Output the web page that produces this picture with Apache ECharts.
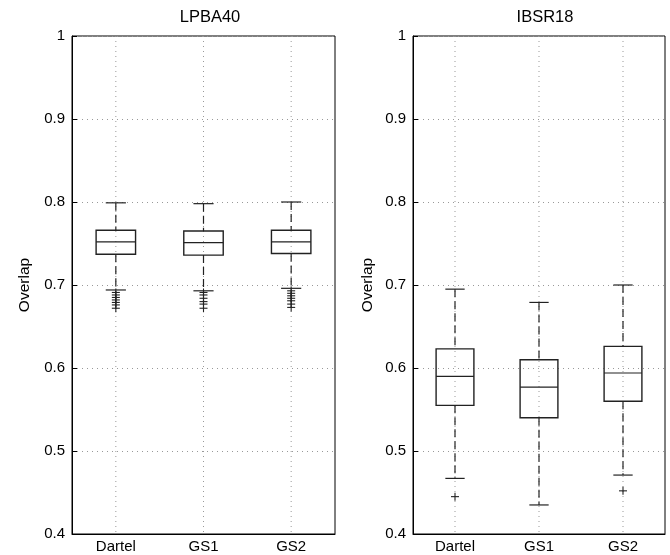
<!DOCTYPE html>
<html>
<head>
<meta charset="utf-8">
<script src="https://cdn.jsdelivr.net/npm/echarts@6/dist/echarts.min.js"></script>
<style>html,body{margin:0;padding:0;background:#fff}#c{width:670px;height:555px}</style>
</head>
<body>
<div id="c"></div>
<script>
var categories = ['Dartel', 'GS1', 'GS2'];
var yTicks = [0.4, 0.5, 0.6, 0.7, 0.8, 0.9, 1];

// LPBA40 box statistics
var lpbaLowerWhisker = [0.694, 0.693, 0.696];
var lpbaQ1 = [0.737, 0.736, 0.738];
var lpbaMedian = [0.752, 0.751, 0.752];
var lpbaQ3 = [0.766, 0.765, 0.766];
var lpbaUpperWhisker = [0.799, 0.798, 0.800];
var lpbaOutliersDartel = [0.691, 0.688, 0.685, 0.682, 0.679, 0.676, 0.672];
var lpbaOutliersGS1 = [0.691, 0.688, 0.684, 0.680, 0.677, 0.672];
var lpbaOutliersGS2 = [0.693, 0.690, 0.687, 0.684, 0.681, 0.677, 0.673];

// IBSR18 box statistics
var ibsrLowerWhisker = [0.467, 0.435, 0.471];
var ibsrQ1 = [0.555, 0.540, 0.560];
var ibsrMedian = [0.590, 0.577, 0.594];
var ibsrQ3 = [0.623, 0.610, 0.626];
var ibsrUpperWhisker = [0.695, 0.679, 0.700];
var ibsrOutliersDartel = [0.445];
var ibsrOutliersGS1 = [];
var ibsrOutliersGS2 = [0.452];

function boxData(lw, q1, med, q3, uw) {
  return categories.map(function (c, i) { return [i, lw[i], q1[i], med[i], q3[i], uw[i]]; });
}
function outlierData(lists) {
  var out = [];
  lists.forEach(function (l, i) { l.forEach(function (v) { out.push([i, v]); }); });
  return out;
}

var DARK = '#222';
function renderBox(params, api) {
  var i = api.value(0);
  var band = api.size([1, 0])[0];
  var bw = band * 0.45, cw = band * 0.23;
  var top = api.coord([i, 1]), bot = api.coord([i, 0.4]);
  var pLw = api.coord([i, api.value(1)]);
  var pQ1 = api.coord([i, api.value(2)]);
  var pMed = api.coord([i, api.value(3)]);
  var pQ3 = api.coord([i, api.value(4)]);
  var pUw = api.coord([i, api.value(5)]);
  var x = pMed[0];
  var grid = {type: 'line', shape: {x1: x, y1: top[1], x2: x, y2: bot[1]},
    style: {stroke: '#999', lineWidth: 1, lineDash: [1, 4]}, silent: true};
  var ln = function (x1, y1, x2, y2, dash) {
    return {type: 'line', shape: {x1: x1, y1: y1, x2: x2, y2: y2},
      style: {stroke: DARK, lineWidth: 1.2, lineDash: dash || null, fill: null}};
  };
  return {type: 'group', children: [
    grid,
    ln(x, pUw[1], x, pQ3[1], [8, 4]),
    ln(x, pQ1[1], x, pLw[1], [8, 4]),
    ln(x - cw / 2, pUw[1], x + cw / 2, pUw[1]),
    ln(x - cw / 2, pLw[1], x + cw / 2, pLw[1]),
    {type: 'rect', shape: {x: x - bw / 2, y: pQ3[1], width: bw, height: pQ1[1] - pQ3[1]},
      style: {stroke: DARK, lineWidth: 1.4, fill: null}},
    ln(x - bw / 2, pMed[1], x + bw / 2, pMed[1])
  ]};
}
function renderPlus(params, api) {
  var p = api.coord([api.value(0), api.value(1)]);
  var h = 4;
  return {type: 'group', children: [
    {type: 'line', shape: {x1: p[0] - h, y1: p[1], x2: p[0] + h, y2: p[1]}, style: {stroke: DARK, lineWidth: 1.1}},
    {type: 'line', shape: {x1: p[0], y1: p[1] - h, x2: p[0], y2: p[1] + h}, style: {stroke: DARK, lineWidth: 1.1}}
  ]};
}

var FONT = 'Liberation Sans';
function xAxis(gi) {
  return {type: 'category', gridIndex: gi, data: categories, boundaryGap: true,
    axisLine: {lineStyle: {color: '#000', width: 1}},
    axisTick: {alignWithLabel: true, inside: true, length: 5, lineStyle: {color: '#000'}},
    axisLabel: {color: '#000', fontFamily: FONT, fontSize: 15, margin: 5},
    splitLine: {show: false}};
}
function yAxis(gi, gap) {
  return {type: 'value', gridIndex: gi, min: 0.4, max: 1, interval: 0.1,
    name: 'Overlap', nameLocation: 'middle', nameGap: gap, nameRotate: 90,
    nameTextStyle: {color: '#000', fontFamily: FONT, fontSize: 15.5},
    axisLine: {show: true, lineStyle: {color: '#000', width: 1}},
    axisTick: {show: true, inside: true, length: 5, lineStyle: {color: '#000'}},
    axisLabel: {color: '#000', fontFamily: FONT, fontSize: 15, margin: 7,
      formatter: function (v) { return String(Math.round(v * 10) / 10); }},
    splitLine: {show: true, lineStyle: {color: '#999', width: 1, type: [1, 4]}}};
}

var chart = echarts.init(document.getElementById('c'), null, {renderer: 'canvas'});
chart.setOption({
  animation: false,
  backgroundColor: '#fff',
  title: [
    {text: 'LPBA40', left: 205, top: 4, textAlign: 'center',
      textStyle: {fontFamily: FONT, fontSize: 16.5, fontWeight: 'normal', color: '#000'}},
    {text: 'IBSR18', left: 540, top: 4, textAlign: 'center',
      textStyle: {fontFamily: FONT, fontSize: 16.5, fontWeight: 'normal', color: '#000'}}
  ],
  grid: [
    {left: 72, top: 36, width: 263, height: 498, show: true, borderColor: '#000', borderWidth: 1, backgroundColor: 'transparent'},
    {left: 413, top: 36, width: 252, height: 498, show: true, borderColor: '#000', borderWidth: 1, backgroundColor: 'transparent'}
  ],
  xAxis: [xAxis(0), xAxis(1)],
  yAxis: [yAxis(0, 39), yAxis(1, 37)],
  series: [
    {type: 'custom', xAxisIndex: 0, yAxisIndex: 0, renderItem: renderBox,
      data: boxData(lpbaLowerWhisker, lpbaQ1, lpbaMedian, lpbaQ3, lpbaUpperWhisker)},
    {type: 'custom', xAxisIndex: 0, yAxisIndex: 0, renderItem: renderPlus,
      data: outlierData([lpbaOutliersDartel, lpbaOutliersGS1, lpbaOutliersGS2])},
    {type: 'custom', xAxisIndex: 1, yAxisIndex: 1, renderItem: renderBox,
      data: boxData(ibsrLowerWhisker, ibsrQ1, ibsrMedian, ibsrQ3, ibsrUpperWhisker)},
    {type: 'custom', xAxisIndex: 1, yAxisIndex: 1, renderItem: renderPlus,
      data: outlierData([ibsrOutliersDartel, ibsrOutliersGS1, ibsrOutliersGS2])}
  ]
});
</script>
</body>
</html>
